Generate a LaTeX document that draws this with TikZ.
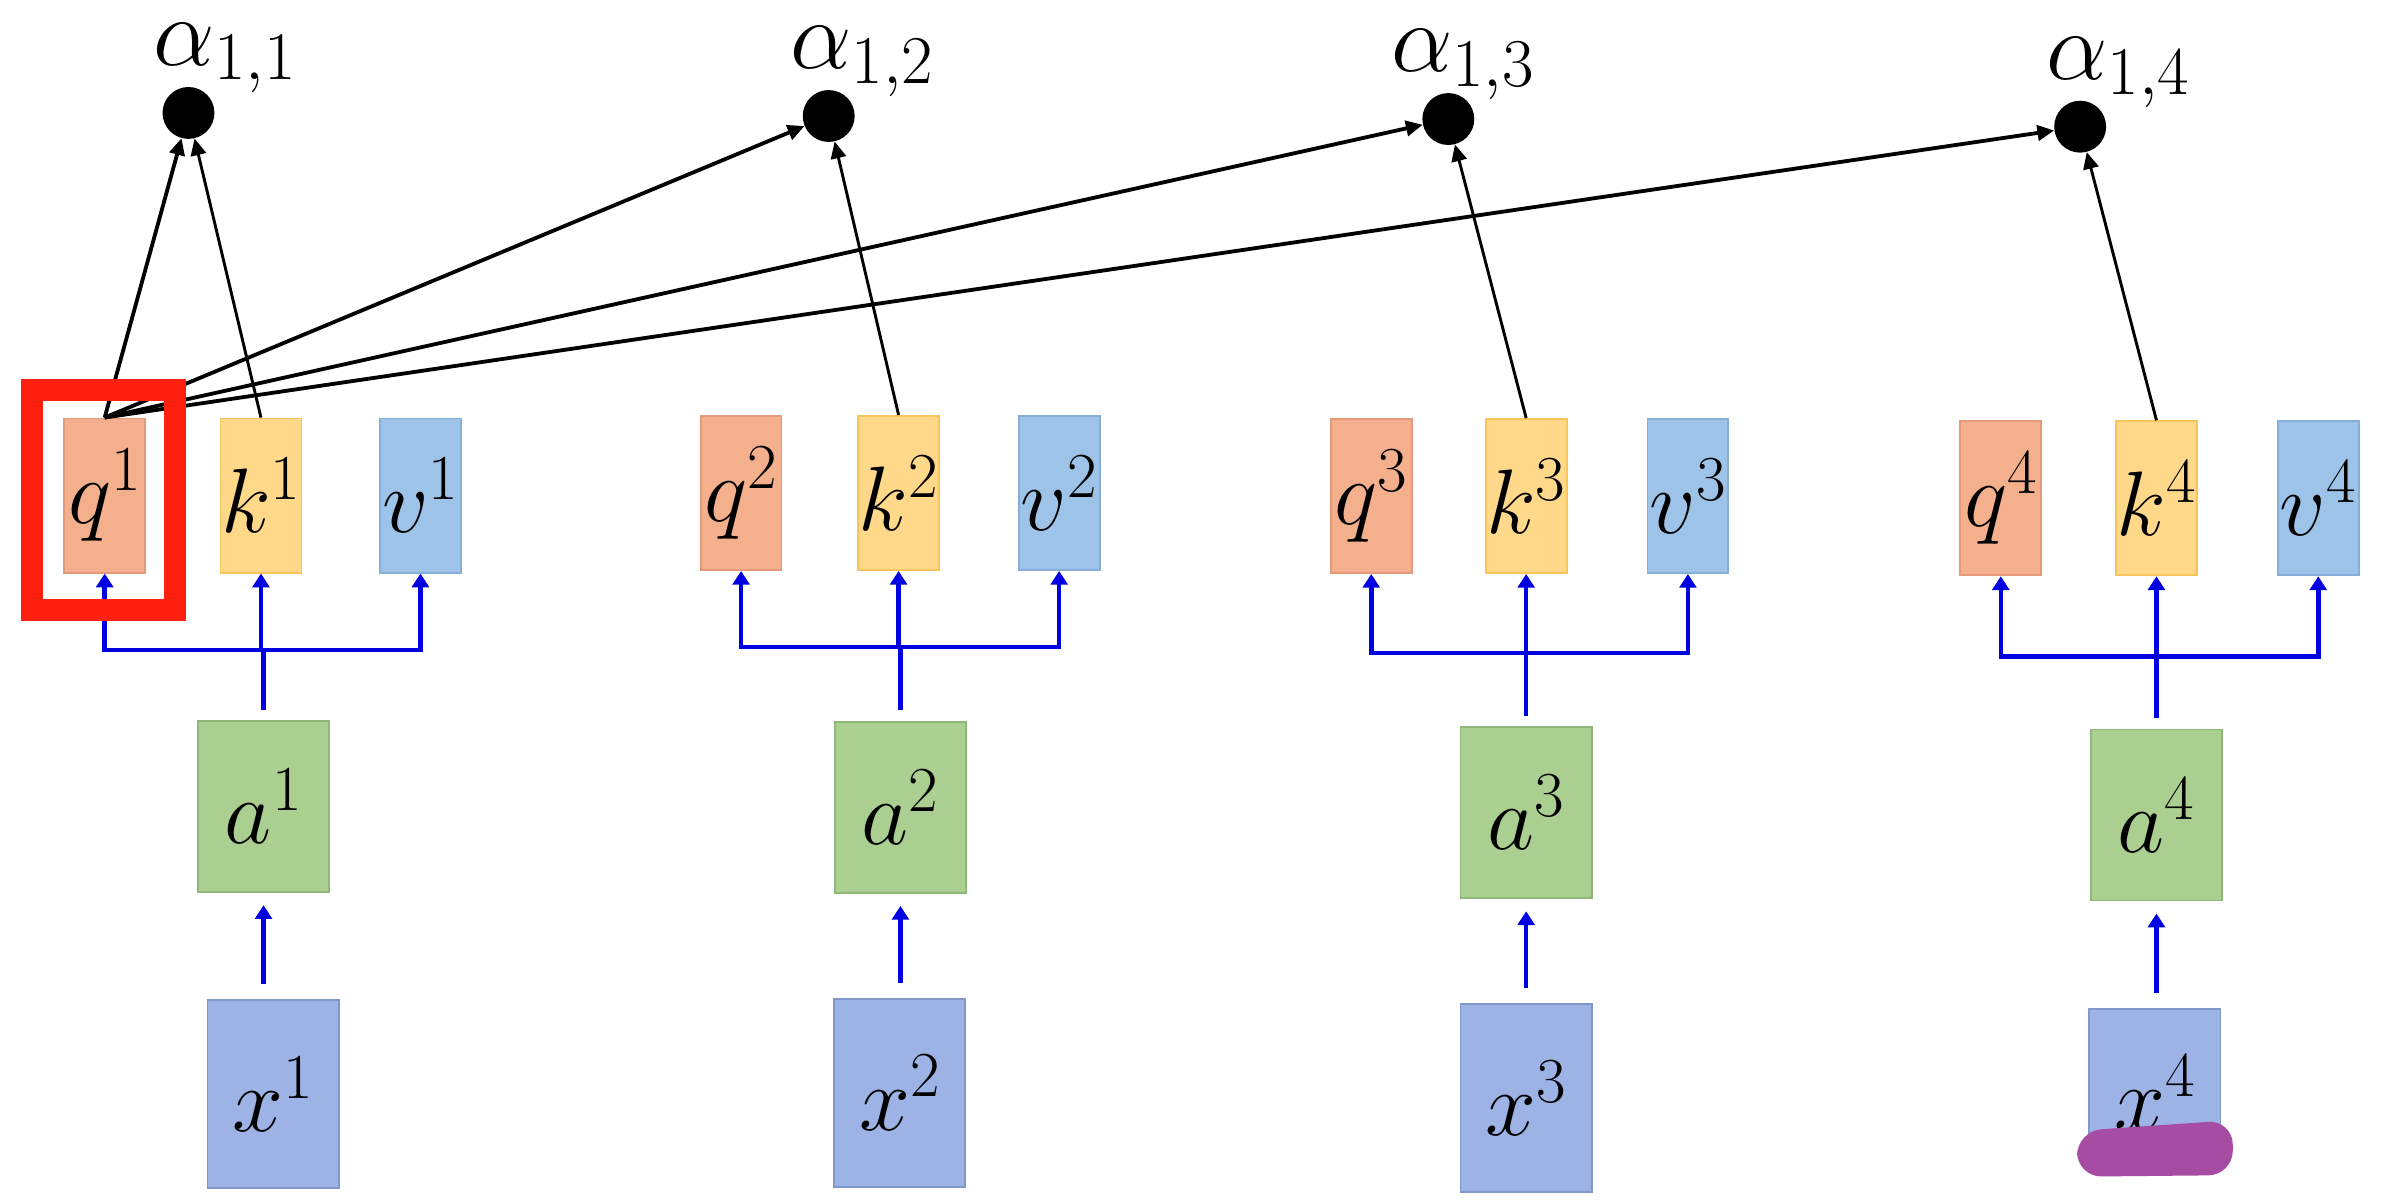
\documentclass[tikz,border=0pt]{standalone}
\usepackage{fix-cm}
\usetikzlibrary{arrows.meta}
\definecolor{qfill}{HTML}{F4B08C}
\definecolor{qdraw}{HTML}{E49A78}
\definecolor{kfill}{HTML}{FFD88A}
\definecolor{kdraw}{HTML}{F7C55A}
\definecolor{vfill}{HTML}{9DC3E8}
\definecolor{vdraw}{HTML}{86AEDA}
\definecolor{afill}{HTML}{AACF90}
\definecolor{adraw}{HTML}{8FB878}
\definecolor{xfill}{HTML}{9DB3E6}
\definecolor{xdraw}{HTML}{8198CC}
\definecolor{conblue}{HTML}{0000E0}
\definecolor{hlred}{HTML}{FF2010}
\definecolor{blob}{HTML}{A64CA3}
\begin{document}
\begin{tikzpicture}[x=1pt,y=-1pt,
  box/.style={draw, line width=1.2pt, minimum width=53pt, minimum height=101pt, inner sep=0pt,
    font=\fontsize{60}{72}\selectfont},
  qbox/.style={box, fill=qfill, draw=qdraw},
  kbox/.style={box, fill=kfill, draw=kdraw},
  vbox/.style={box, fill=vfill, draw=vdraw},
  abox/.style={box, fill=afill, draw=adraw, minimum width=86pt, minimum height=112pt},
  xbox/.style={box, fill=xfill, draw=xdraw, minimum width=86pt, minimum height=123pt},
  adot/.style={circle, fill=black, minimum size=34pt, inner sep=0pt},
  alab/.style={anchor=base west, inner sep=0pt, font=\fontsize{64}{76}\selectfont},
  qline/.style={line width=2.5pt, -{Triangle[length=11pt,width=10pt]}},
  kline/.style={line width=1.9pt, -{Triangle[length=11pt,width=10pt]}},
  bl/.style={draw=conblue, line width=3pt},
  barrow/.style={bl, -{Triangle[length=9pt,width=11pt]}}
]
\useasboundingbox[fill=white] (0,0) rectangle (1568,788);

% ---- top row: q, k, v ----
\node[qbox] (q1) at (68.6,324.7) {$q^1$};
\node[kbox] (k1) at (171,324.7) {$k^1$};
\node[vbox] (v1) at (275.5,324.7) {$v^1$};
\node[qbox] (q2) at (485.6,323) {$q^2$};
\node[kbox] (k2) at (588.8,323) {$k^2$};
\node[vbox] (v2) at (694,323) {$v^2$};
\node[qbox] (q3) at (898.5,325) {$q^3$};
\node[kbox] (k3) at (1000,325) {$k^3$};
\node[vbox] (v3) at (1106,325) {$v^3$};
\node[qbox] (q4) at (1311,326.5) {$q^4$};
\node[kbox] (k4) at (1413,326.5) {$k^4$};
\node[vbox] (v4) at (1519,326.5) {$v^4$};

% ---- a row ----
\node[abox] (a1) at (172.7,528.5) {$a^1$};
\node[abox] (a2) at (590,529) {$a^2$};
\node[abox] (a3) at (1000,532.5) {$a^3$};
\node[abox] (a4) at (1413,534) {$a^4$};

% ---- x row ----
\node[xbox] (x1) at (179,717) {$x^1$};
\node[xbox] (x2) at (589.5,716) {$x^2$};
\node[xbox] (x3) at (1000,719.5) {$x^3$};
\node[xbox, minimum height=104pt] (x4) at (1412,713) {};
\node[inner sep=0pt, font=\fontsize{60}{72}\selectfont] (x4t) at (1412,716) {$x^4$};

% ---- alpha dots and labels ----
\node[adot] (d1) at (123.5,74) {};
\node[adot] (d2) at (543,76) {};
\node[adot] (d3) at (949,78) {};
\node[adot] (d4) at (1363,83) {};
\node[alab] (l1) at (100.5,42.6) {$\alpha_{1,1}$};
\node[alab] (l2) at (518,45) {$\alpha_{1,2}$};
\node[alab] (l3) at (911.5,47) {$\alpha_{1,3}$};
\node[alab] (l4) at (1341,52) {$\alpha_{1,4}$};

% ---- blue connectors ----
\foreach \i/\by in {1/426,2/424,3/428,4/430}{
  \coordinate (b\i) at (a\i.north |- 0,\by);
  \draw[bl, shorten <=7pt] (a\i.north) -- (b\i);
  \draw[barrow] (b\i) -- (b\i -| k\i.south) -- (k\i.south);
  \draw[barrow] (b\i) -| (q\i.south);
  \draw[barrow] (b\i) -| (v\i.south);
  \draw[barrow, shorten <=10pt, shorten >=8pt] (x\i.north -| a\i.south) -- (a\i.south);
}

% ---- black connectors ----
\draw[qline] (q1.north) -- (d1);
\draw[kline] (k1.north) -- (d1);
\draw[qline] (q1.north) -- (d2);
\draw[kline] (k2.north) -- (d2);
\draw[qline] (q1.north) -- (d3);
\draw[kline] (k3.north) -- (d3);
\draw[qline] (q1.north) -- (d4);
\draw[kline] (k4.north) -- (d4);

% ---- highlight frame on q1 ----
\draw[hlred, line width=14.4pt]
  ([xshift=-20.6pt,yshift=17.8pt]q1.north west) rectangle ([xshift=19pt,yshift=-23.6pt]q1.south east);

% ---- purple mark ----
\fill[blob, rounded corners=16pt] (1361,741) -- (1463,734) -- (1463,770) -- (1361,771) -- cycle;
\end{tikzpicture}
\end{document}
